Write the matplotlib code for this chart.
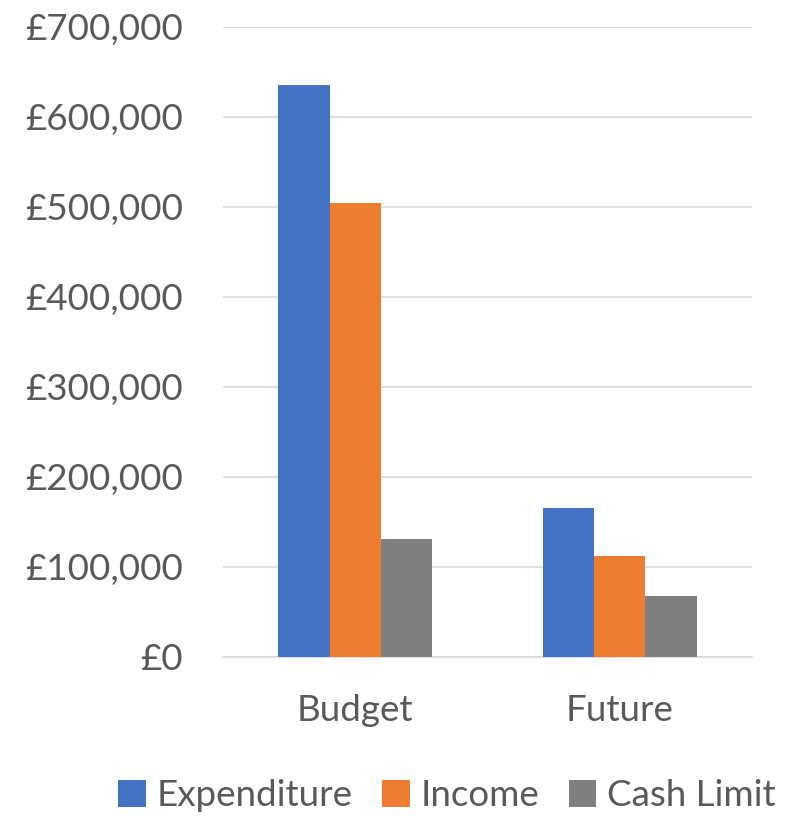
import numpy as np
import matplotlib.pyplot as plt
from matplotlib.ticker import FuncFormatter

categories = ["Budget", "Future"]
series = ["Expenditure", "Income", "Cash Limit"]
expenditure = [635000, 165000]
income = [504000, 112000]
cash_limit = [130500, 68000]

clrs = ["#4472C4", "#ED7D31", "#7F7F7F"]
txt = "#595959"

plt.rcParams["font.family"] = ["Lato", "DejaVu Sans"]

fig = plt.figure(figsize=(7.87, 8.16), dpi=100)
ax = fig.add_axes([223/787, 1-656.7/816, (752-223)/787, (656.7-26.7)/816])

x = np.arange(len(categories))
w = 0.194
for i, (name, vals) in enumerate(zip(series, [expenditure, income, cash_limit])):
    ax.bar(x + (i-1)*w, vals, width=w, color=clrs[i], label=name, zorder=3)

ax.set_xlim(-0.5, 1.5)
ax.set_ylim(0, 700000)
ax.set_yticks(np.arange(0, 700001, 100000))
ax.yaxis.set_major_formatter(FuncFormatter(lambda v, p: "£{:,.0f}".format(v)))
ax.grid(axis="y", color="#D9D9D9", lw=1.2, zorder=0)
ax.set_xticks(x)
ax.set_xticklabels(categories)
for s in ["top", "right", "left"]:
    ax.spines[s].set_visible(False)
ax.spines["bottom"].set_color("#D9D9D9")
ax.spines["bottom"].set_linewidth(1.2)
ax.tick_params(axis="both", length=0, labelsize=26.5, colors=txt)
ax.tick_params(axis="y", pad=29)
ax.tick_params(axis="x", pad=27)

leg = fig.legend(loc="center", bbox_to_anchor=(0.568, 1-796/816), ncol=3,
                 frameon=False, fontsize=26.5, handlelength=0.75, handleheight=0.75,
                 handletextpad=0.3, columnspacing=0.8)
for t in leg.get_texts():
    t.set_color(txt)

fig.savefig("out.png", dpi=100)
